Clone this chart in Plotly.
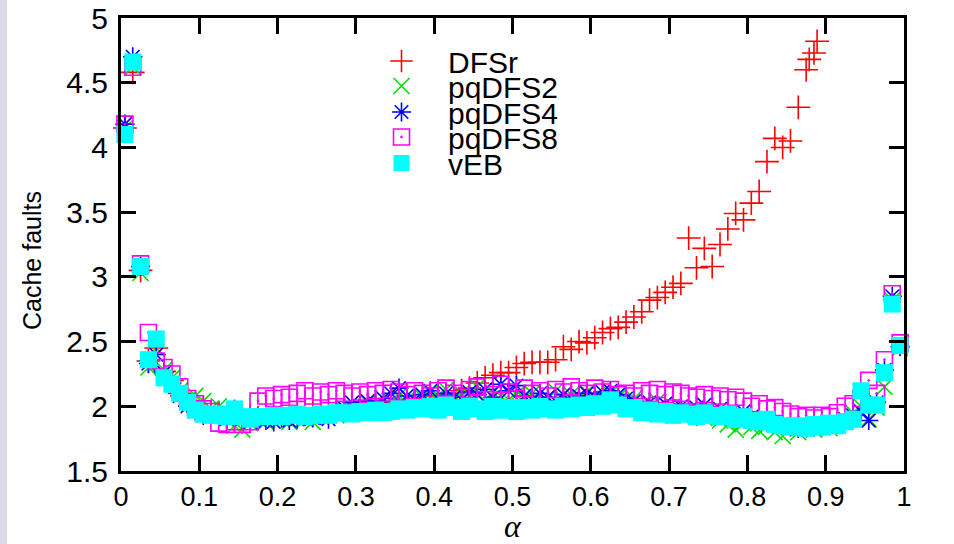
import plotly.graph_objects as go

# alpha values shared by the pq/vEB runs
alpha = [0.005, 0.015, 0.025, 0.035, 0.045, 0.055, 0.065, 0.075, 0.085, 0.095,
         0.105, 0.115, 0.125, 0.135, 0.145, 0.155, 0.165, 0.175, 0.185, 0.195,
         0.205, 0.215, 0.225, 0.235, 0.245, 0.255, 0.265, 0.275, 0.285, 0.295,
         0.305, 0.315, 0.325, 0.335, 0.345, 0.355, 0.365, 0.375, 0.385, 0.395,
         0.405, 0.415, 0.425, 0.435, 0.445, 0.455, 0.465, 0.475, 0.485, 0.495,
         0.505, 0.515, 0.525, 0.535, 0.545, 0.555, 0.565, 0.575, 0.585, 0.595,
         0.605, 0.615, 0.625, 0.635, 0.645, 0.655, 0.665, 0.675, 0.685, 0.695,
         0.705, 0.715, 0.725, 0.735, 0.745, 0.755, 0.765, 0.775, 0.785, 0.795,
         0.805, 0.815, 0.825, 0.835, 0.845, 0.855, 0.865, 0.875, 0.885, 0.895,
         0.905, 0.915, 0.925, 0.935, 0.945, 0.955, 0.965, 0.975, 0.985, 0.995]

# DFSr runs stop before the curve leaves the plotted range
dfsr_alpha = [0.005, 0.015, 0.025, 0.035, 0.045, 0.055, 0.065, 0.075, 0.085, 0.095,
              0.105, 0.115, 0.125, 0.135, 0.145, 0.155, 0.165, 0.175, 0.185, 0.195,
              0.205, 0.215, 0.225, 0.235, 0.245, 0.255, 0.265, 0.275, 0.285, 0.295,
              0.305, 0.315, 0.325, 0.335, 0.345, 0.355, 0.365, 0.375, 0.385, 0.395,
              0.405, 0.415, 0.425, 0.435, 0.445, 0.455, 0.465, 0.475, 0.485, 0.495,
              0.505, 0.515, 0.525, 0.535, 0.545, 0.555, 0.565, 0.575, 0.585, 0.595,
              0.605, 0.615, 0.625, 0.635, 0.645, 0.655, 0.665, 0.675, 0.685, 0.695,
              0.705, 0.715, 0.725, 0.735, 0.745, 0.755, 0.765, 0.775, 0.785, 0.795,
              0.805, 0.815, 0.825, 0.835, 0.845, 0.855, 0.865, 0.875, 0.879, 0.885,
              0.889]

dfsr = [4.15, 4.58, 3.05, 2.35, 2.45, 2.27, 2.20, 2.10, 2.04, 2.02,
        1.99, 1.96, 1.95, 1.93, 1.96, 1.90, 1.93, 1.91, 1.94, 1.92,
        1.95, 1.93, 1.96, 1.94, 1.97, 1.95, 1.98, 1.96, 1.99, 1.97,
        2.00, 1.98, 2.01, 2.03, 2.00, 2.04, 2.02, 2.05, 2.03, 2.06,
        2.08, 2.06, 2.10, 2.12, 2.14, 2.18, 2.22, 2.24, 2.26, 2.26,
        2.30, 2.33, 2.34, 2.34, 2.34, 2.36, 2.46, 2.44, 2.50, 2.49,
        2.53, 2.57, 2.60, 2.61, 2.65, 2.69, 2.73, 2.82, 2.84, 2.88,
        2.92, 2.95, 3.30, 3.07, 3.22, 3.08, 3.25, 3.37, 3.49, 3.44,
        3.57, 3.66, 3.89, 4.07, 4.00, 4.05, 4.31, 4.60, 4.68, 4.73,
        4.82]

pqdfs2 = [4.15, 4.62, 3.03, 2.30, 2.45, 2.28, 2.22, 2.12, 2.05, 2.08,
          2.04, 1.98, 2.00, 1.94, 1.85, 1.82, 1.87, 1.90, 1.88, 1.92,
          1.90, 1.88, 1.93, 1.90, 1.88, 1.92, 1.95, 1.93, 1.97, 2.00,
          1.98, 2.03, 2.01, 2.06, 2.04, 2.08, 2.05, 2.02, 2.07, 2.11,
          2.08, 2.13, 2.06, 2.10, 2.07, 2.15, 2.04, 2.11, 2.08, 2.05,
          2.09, 2.06, 2.10, 2.03, 2.07, 2.12, 2.05, 2.09, 2.06, 2.11,
          2.08, 2.05, 2.10, 2.07, 2.03, 2.06, 2.01, 1.98, 2.04, 1.95,
          2.00, 1.93, 1.97, 1.95, 1.91, 1.94, 1.89, 1.86, 1.82, 1.87,
          1.84, 1.81, 1.85, 1.80, 1.77, 1.83, 1.80, 1.84, 1.82, 1.85,
          1.83, 1.86, 1.89, 1.95, 2.00, 1.90, 1.99, 2.15, 2.82, 2.45]

pqdfs4 = [4.18, 4.70, 3.08, 2.33, 2.40, 2.26, 2.18, 2.08, 2.00, 1.96,
          1.93, 1.95, 1.92, 1.90, 1.97, 1.90, 1.88, 1.90, 1.89, 1.88,
          1.91, 1.89, 1.90, 1.92, 1.91, 1.93, 1.90, 1.95, 1.99, 2.03,
          2.00, 2.04, 2.02, 2.06, 2.10, 2.14, 2.08, 2.05, 2.09, 2.12,
          2.06, 2.10, 2.07, 2.05, 2.11, 2.09, 2.13, 2.07, 2.17, 2.12,
          2.16, 2.08, 2.05, 2.10, 2.07, 2.04, 2.09, 2.06, 2.08, 2.10,
          2.07, 2.11, 2.12, 2.09, 2.06, 2.04, 2.00, 2.03, 1.99, 2.02,
          1.98, 2.00, 1.97, 1.99, 2.01, 1.96, 1.98, 1.95, 1.93, 1.96,
          1.92, 1.90, 1.88, 1.87, 1.86, 1.84, 1.83, 1.85, 1.84, 1.86,
          1.85, 1.87, 1.90, 1.93, 1.96, 1.89, 2.03, 2.28, 2.85, 2.46]

pqdfs8 = [4.18, 4.62, 3.10, 2.57, 2.35, 2.30, 2.25, 2.15, 2.06, 2.02,
          1.98, 1.96, 1.87, 1.86, 1.88, 1.86, 1.88, 2.04, 2.08, 2.06,
          2.09, 2.07, 2.10, 2.12, 2.08, 2.11, 2.09, 2.12, 2.10, 2.08,
          2.11, 2.09, 2.12, 2.10, 2.13, 2.11, 2.09, 2.12, 2.10, 2.08,
          2.12, 2.14, 2.10, 2.07, 2.13, 2.15, 2.05, 2.09, 2.17, 2.11,
          2.06, 2.14, 2.10, 2.12, 2.08, 2.13, 2.11, 2.15, 2.12, 2.10,
          2.14, 2.11, 2.13, 2.09, 2.10, 2.08, 2.12, 2.10, 2.13, 2.09,
          2.11, 2.10, 2.08, 2.07, 2.09, 2.06, 2.08, 2.05, 2.07, 2.04,
          2.00, 2.02, 1.98, 1.99, 1.96, 1.94, 1.92, 1.93, 1.91, 1.93,
          1.92, 1.95, 2.00, 2.02, 2.06, 2.20, 2.10, 2.36, 2.87, 2.49]

veb = [4.10, 4.66, 3.08, 2.36, 2.52, 2.22, 2.17, 2.10, 2.03, 1.97,
       1.94, 1.93, 1.94, 1.92, 1.98, 1.92, 1.90, 1.92, 1.92, 1.93,
       1.92, 1.93, 1.94, 1.92, 1.93, 1.94, 1.93, 1.95, 1.95, 1.94,
       1.96, 1.95, 1.97, 1.95, 1.96, 1.98, 1.97, 1.99, 1.98, 2.00,
       1.97, 2.01, 1.99, 1.96, 2.00, 1.98, 1.96, 2.00, 1.97, 1.99,
       1.96, 1.99, 1.97, 2.00, 1.98, 1.97, 2.00, 1.98, 2.01, 1.99,
       2.02, 2.00, 2.05, 2.01, 1.98, 1.99, 1.95, 1.97, 1.94, 1.96,
       1.93, 1.95, 1.94, 1.92, 1.95, 1.93, 1.92, 1.94, 1.90, 1.92,
       1.89, 1.88, 1.90, 1.86, 1.85, 1.84, 1.85, 1.83, 1.86, 1.84,
       1.87, 1.85, 1.88, 1.90, 2.12, 2.01, 2.01, 2.26, 2.79, 2.47]

x_ticks = [0, 0.1, 0.2, 0.3, 0.4, 0.5, 0.6, 0.7, 0.8, 0.9, 1]
y_ticks = [1.5, 2, 2.5, 3, 3.5, 4, 4.5, 5]

SANS = "Liberation Sans, Arial, sans-serif"

series = [
    ("DFSr", dfsr_alpha, dfsr, "cross-thin-open", "#ff0000", 17, 1.6),
    ("pqDFS2", alpha, pqdfs2, "x-thin-open", "#00e000", 16, 1.6),
    ("pqDFS4", alpha, pqdfs4, "asterisk-open", "#0000ff", 16, 1.6),
    ("pqDFS8", alpha, pqdfs8, "square-open-dot", "#ff00ff", 16, 1.6),
    ("vEB", alpha, veb, "square", "#00ffff", 17, 0),
]

fig = go.Figure()
legend_rows = [61, 86, 112, 137, 163]  # pixel rows of the key entries
for i, (name, xs, ys, sym, col, size, lw) in enumerate(series):
    fig.add_trace(go.Scatter(
        x=xs, y=ys, mode="markers", name=name,
        legend="legend" if i == 0 else f"legend{i + 1}",
        cliponaxis=False,
        marker=dict(symbol=sym, color=col, size=size,
                    line=dict(color=col, width=lw)),
    ))

# plot area: x 121..904 px, y 18..471 px
PL, PR, PT, PB = 121, 904, 18, 471
PW, PH = PR - PL, PB - PT

layout_legends = {}
for i, row in enumerate(legend_rows):
    key = "legend" if i == 0 else f"legend{i + 1}"
    layout_legends[key] = dict(
        x=(355 - PL) / PW, y=(PB - row) / PH,
        xanchor="left", yanchor="middle",
        bgcolor="rgba(0,0,0,0)", borderwidth=0,
        itemwidth=83, font=dict(family=SANS, size=30, color="black"),
    )

fig.update_layout(
    width=954, height=544,
    margin=dict(l=PL, r=954 - PR, t=PT, b=544 - PB, autoexpand=False),
    paper_bgcolor="white", plot_bgcolor="white",
    showlegend=True,
    **layout_legends,
    xaxis=dict(
        range=[0, 1], tickvals=x_ticks, ticktext=[f"{v:g}" for v in x_ticks],
        showgrid=False, zeroline=False, automargin=False,
        showline=True, linecolor="black", linewidth=3, mirror="ticks",
        ticks="inside", ticklen=16, tickwidth=2.5, tickcolor="black",
        tickfont=dict(family=SANS, size=27, color="black"),
        ticklabelstandoff=0,
        title=dict(text="<i>α</i>", standoff=28,
                   font=dict(family="Liberation Serif, DejaVu Serif, serif",
                             size=32, color="black")),
    ),
    yaxis=dict(
        range=[1.5, 5], tickvals=y_ticks, ticktext=[f"{v:g}" for v in y_ticks],
        showgrid=False, zeroline=False, automargin=False,
        showline=True, linecolor="black", linewidth=3, mirror="ticks",
        ticks="inside", ticklen=15, tickwidth=2.5, tickcolor="black",
        tickfont=dict(family=SANS, size=30, color="black"),
        ticklabelstandoff=4,
    ),
    annotations=[dict(text="Cache faults", textangle=-90, showarrow=False,
                      xref="paper", yref="paper",
                      x=(32 - PL) / PW, y=(PB - 261) / PH,
                      xanchor="center", yanchor="middle",
                      font=dict(family=SANS, size=25, color="black"))],
    shapes=[dict(type="rect", xref="paper", yref="paper",
                 x0=-PL / PW, x1=(7 - PL) / PW,
                 y0=-(544 - PB) / PH, y1=1 + PT / PH,
                 fillcolor="#dad9e8", line=dict(width=0), layer="below")],
)

fig.write_html("out.html")
